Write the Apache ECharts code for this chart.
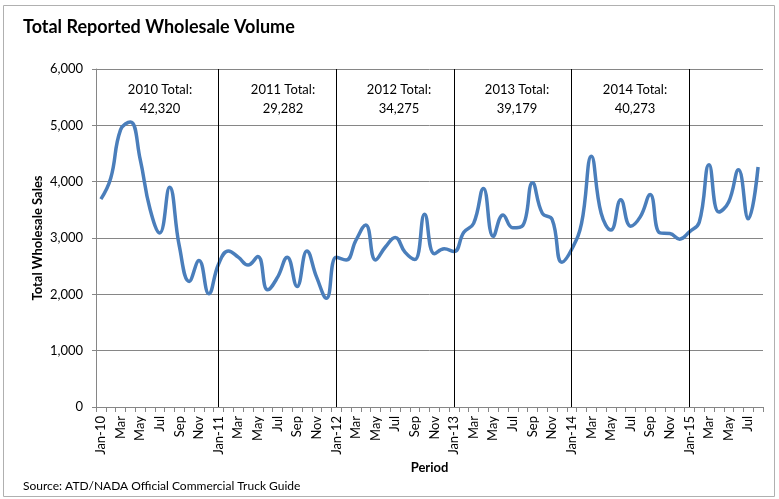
<!DOCTYPE html>
<html>
<head>
<meta charset="utf-8">
<script src="https://cdn.jsdelivr.net/npm/echarts@6/dist/echarts.min.js"></script>
<style>html,body{margin:0;padding:0;background:#fff;}#c{width:779px;height:499px;}</style>
</head>
<body>
<div id="c"></div>
<script>
const categories = [
 'Jan-10','Feb-10','Mar-10','Apr-10','May-10','Jun-10','Jul-10','Aug-10','Sep-10','Oct-10','Nov-10','Dec-10',
 'Jan-11','Feb-11','Mar-11','Apr-11','May-11','Jun-11','Jul-11','Aug-11','Sep-11','Oct-11','Nov-11','Dec-11',
 'Jan-12','Feb-12','Mar-12','Apr-12','May-12','Jun-12','Jul-12','Aug-12','Sep-12','Oct-12','Nov-12','Dec-12',
 'Jan-13','Feb-13','Mar-13','Apr-13','May-13','Jun-13','Jul-13','Aug-13','Sep-13','Oct-13','Nov-13','Dec-13',
 'Jan-14','Feb-14','Mar-14','Apr-14','May-14','Jun-14','Jul-14','Aug-14','Sep-14','Oct-14','Nov-14','Dec-14',
 'Jan-15','Feb-15','Mar-15','Apr-15','May-15','Jun-15','Jul-15','Aug-15'
];
const tickLabels = [
 'Jan-10','','Mar','','May','','Jul','','Sep','','Nov','',
 'Jan-11','','Mar','','May','','Jul','','Sep','','Nov','',
 'Jan-12','','Mar','','May','','Jul','','Sep','','Nov','',
 'Jan-13','','Mar','','May','','Jul','','Sep','','Nov','',
 'Jan-14','','Mar','','May','','Jul','','Sep','','Nov','',
 'Jan-15','','Mar','','May','','Jul',''
];
const sales = [
 3690,4060,4920,5060,4400,3520,3090,3900,2850,2230,2600,2010,
 2540,2770,2660,2520,2670,2080,2300,2660,2140,2770,2300,1930,
 2660,2610,2960,3230,2610,2840,3010,2750,2620,3420,2720,2810,
 2760,3100,3260,3880,3030,3410,3180,3220,3980,3440,3330,2570,
 2800,3260,4450,3440,3140,3680,3210,3380,3770,3090,3080,2980,
 3110,3280,4300,3460,3640,4210,3340,4260
];
const yearMarkers = ['Jan-11','Jan-12','Jan-13','Jan-14','Jan-15'];
const yearTotalTitles = ['2010 Total:','2011 Total:','2012 Total:','2013 Total:','2014 Total:'];
const yearTotals = ['42,320','29,282','34,275','39,179','40,273'];
const annotationX = [160, 283, 399, 517, 635];

const FONT = 'Lato, "Open Sans", sans-serif';
const chart = echarts.init(document.getElementById('c'), null, {renderer:'canvas'});
const graphics = [
 {type:'rect', shape:{x:3.5,y:5.5,width:771,height:491}, style:{fill:'none', stroke:'#b0b0b0', lineWidth:1}, z:-1},
 {type:'text', left:23, top:18, style:{text:'Total Reported Wholesale Volume', font:'bold 18px '+FONT, fill:'#000'}},
 {type:'text', left:23, top:480, style:{text:'Source: ATD/NADA Official Commercial Truck Guide', font:'12px '+FONT, fill:'#000'}}
];
annotationX.forEach((x,i)=>{
  graphics.push({type:'text', x:x, y:80, style:{text:yearTotalTitles[i]+'\n'+yearTotals[i], font:'13px '+FONT, fill:'#000', align:'center', verticalAlign:'top', lineHeight:19}});
});
chart.setOption({
  animation:false,
  textStyle:{fontFamily:FONT},
  grid:{left:96, top:69, right:16, bottom:92},
  xAxis:{
    type:'category', data:categories, boundaryGap:true,
    name:'Period', nameLocation:'middle', nameGap:54, nameMoveOverlap:false,
    nameTextStyle:{fontWeight:'bold', fontSize:13, color:'#000'},
    axisLine:{lineStyle:{color:'#868686'}},
    axisTick:{show:true, interval:0, length:5, inside:false, lineStyle:{color:'#868686'}},
    axisLabel:{interval:0, rotate:90, fontSize:13, color:'#000', margin:9,
      formatter:(v,i)=>tickLabels[i]},
    splitLine:{show:false}
  },
  yAxis:{
    type:'value', min:0, max:6000, interval:1000,
    name:'Total Wholesale Sales', nameLocation:'middle', nameGap:52, nameRotate:90, nameMoveOverlap:false,
    nameTextStyle:{fontWeight:'bold', fontSize:13, color:'#000'},
    axisLine:{show:true, lineStyle:{color:'#868686'}},
    axisTick:{show:true, length:4, lineStyle:{color:'#868686'}},
    axisLabel:{fontSize:13, color:'#000', margin:13, formatter:v=>v.toLocaleString('en-US')},
    splitLine:{lineStyle:{color:'#868686', width:1}}
  },
  series:[{
    type:'line', data:sales, smooth:0.45, symbol:'none',
    lineStyle:{color:'#4a7ebb', width:3.5},
    markLine:{
      silent:true, symbol:'none', label:{show:false},
      lineStyle:{color:'#000', width:1, type:'solid'},
      data: yearMarkers.map(m=>({xAxis:m}))
    }
  }],
  graphic:graphics
});
</script>
</body>
</html>
